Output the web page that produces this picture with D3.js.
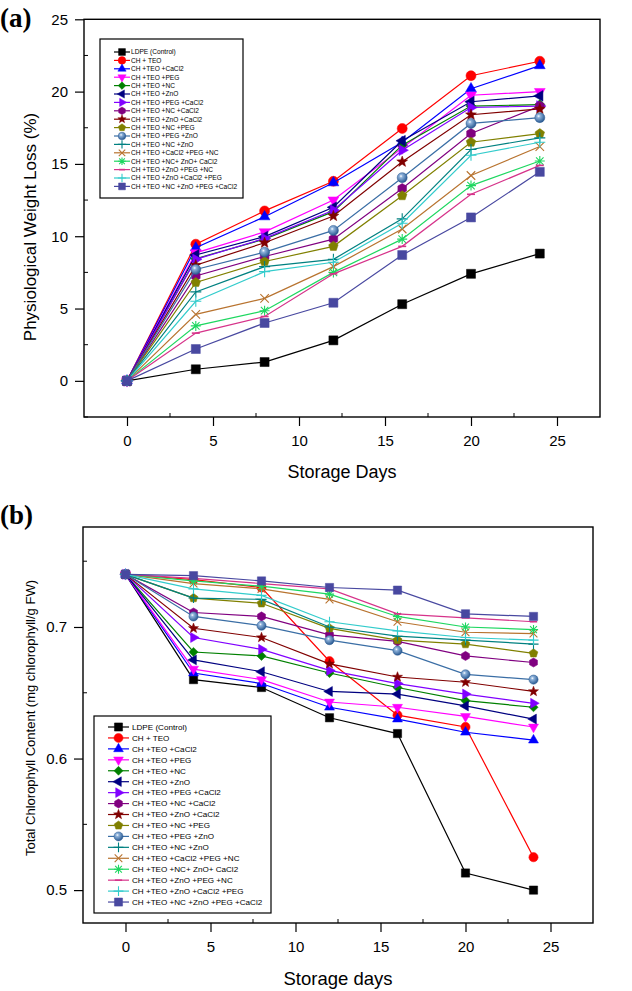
<!DOCTYPE html>
<html>
<head>
<meta charset="utf-8">
<script src="https://cdn.jsdelivr.net/npm/d3@7"></script>
<style>
  body { margin: 0; background: #fff; }
  text { font-family: Arial, "Liberation Sans", sans-serif; }
</style>
</head>
<body>
<svg id="chart" width="632" height="991"></svg>
<script>
// storage days (x values, both panels)
const days = [0, 4, 8, 12, 16, 20, 24];
const xTicks = [0, 5, 10, 15, 20, 25];
const lossTicks = [0, 5, 10, 15, 20, 25];
const chloroTicks = [0.5, 0.6, 0.7];

const treatments = [
  "LDPE (Control)", "CH + TEO", "CH +TEO +CaCl2", "CH +TEO +PEG", "CH +TEO +NC",
  "CH +TEO +ZnO", "CH +TEO +PEG +CaCl2", "CH +TEO +NC +CaCl2", "CH +TEO +ZnO +CaCl2",
  "CH +TEO +NC +PEG", "CH +TEO +PEG +ZnO", "CH +TEO +NC +ZnO", "CH +TEO +CaCl2 +PEG +NC",
  "CH +TEO +NC+ ZnO+ CaCl2", "CH +TEO +ZnO +PEG +NC", "CH +TEO +ZnO +CaCl2 +PEG",
  "CH +TEO +NC +ZnO +PEG +CaCl2"
];

// (a) physiological weight loss (%), one row per treatment
const weightLoss = [
  [0, 0.8, 1.3, 2.8, 5.3, 7.4, 8.8],
  [0, 9.45, 11.75, 13.8, 17.45, 21.1, 22.1],
  [0, 9.2, 11.35, 13.7, 16.5, 20.2, 21.8],
  [0, 8.85, 10.3, 12.5, 16.1, 19.75, 20.0],
  [0, 8.45, 9.8, 11.7, 16.3, 19.0, 19.1],
  [0, 8.7, 9.97, 12.0, 16.6, 19.3, 19.7],
  [0, 8.4, 9.85, 11.8, 15.95, 18.9, 19.0],
  [0, 7.25, 8.6, 9.8, 13.3, 17.1, 19.0],
  [0, 8.0, 9.55, 11.4, 15.15, 18.4, 18.8],
  [0, 6.8, 8.25, 9.3, 12.8, 16.5, 17.1],
  [0, 7.7, 8.9, 10.4, 14.05, 17.8, 18.2],
  [0, 6.15, 7.9, 8.4, 11.2, 16.0, 16.8],
  [0, 4.6, 5.7, 7.9, 10.5, 14.2, 16.2],
  [0, 3.8, 4.85, 7.5, 9.8, 13.5, 15.2],
  [0, 3.3, 4.45, 7.4, 9.3, 12.9, 14.9],
  [0, 5.5, 7.55, 8.2, 10.9, 15.6, 16.5],
  [0, 2.2, 4.0, 5.4, 8.7, 11.3, 14.45]
];

// (b) total chlorophyll content (mg chlorophyll / g FW)
const chlorophyll = [
  [0.74, 0.660, 0.654, 0.631, 0.619, 0.513, 0.500],
  [0.74, 0.736, 0.730, 0.674, 0.633, 0.624, 0.525],
  [0.74, 0.665, 0.657, 0.639, 0.630, 0.620, 0.614],
  [0.74, 0.668, 0.660, 0.643, 0.639, 0.632, 0.624],
  [0.74, 0.681, 0.678, 0.665, 0.654, 0.644, 0.639],
  [0.74, 0.675, 0.666, 0.651, 0.649, 0.640, 0.630],
  [0.74, 0.692, 0.683, 0.667, 0.657, 0.649, 0.642],
  [0.74, 0.711, 0.708, 0.694, 0.689, 0.678, 0.673],
  [0.74, 0.699, 0.692, 0.672, 0.662, 0.658, 0.651],
  [0.74, 0.722, 0.718, 0.699, 0.690, 0.687, 0.680],
  [0.74, 0.708, 0.701, 0.690, 0.682, 0.664, 0.660],
  [0.74, 0.722, 0.721, 0.700, 0.693, 0.690, 0.687],
  [0.74, 0.733, 0.729, 0.721, 0.704, 0.696, 0.695],
  [0.74, 0.735, 0.731, 0.725, 0.708, 0.700, 0.698],
  [0.74, 0.737, 0.733, 0.729, 0.710, 0.707, 0.704],
  [0.74, 0.729, 0.724, 0.704, 0.697, 0.692, 0.690],
  [0.74, 0.739, 0.735, 0.730, 0.728, 0.710, 0.708]
];

// line colour and marker per treatment
const colors = ["#000000", "#ff0000", "#0000ff", "#ff00ff", "#008000", "#000080", "#8000ff",
  "#800080", "#800000", "#808000", "#3a6ea5", "#008080", "#b8732f", "#1ed760", "#d6338a",
  "#33cccc", "#4848a0"];
const markers = ["square", "circle", "up", "down", "diamond", "left", "right", "hexagon",
  "star", "pentagon", "ball", "plus", "times", "asterisk", "bar", "plus", "square"];

// custom marker shapes for d3.symbol (size = r*r)
const poly = (n, rot) => ({
  draw(ctx, size) {
    const r = Math.sqrt(size);
    for (let i = 0; i < n; i++) {
      const a = rot + i * 2 * Math.PI / n;
      i ? ctx.lineTo(r * Math.cos(a), r * Math.sin(a)) : ctx.moveTo(r * Math.cos(a), r * Math.sin(a));
    }
    ctx.closePath();
  }
});
const shapes = {
  square: { draw(ctx, size) { const s = Math.sqrt(size) * 0.9; ctx.rect(-s, -s, 2 * s, 2 * s); } },
  circle: { draw(ctx, size) { const r = Math.sqrt(size); ctx.moveTo(r, 0); ctx.arc(0, 0, r, 0, 2 * Math.PI); } },
  ball: { draw(ctx, size) { const r = Math.sqrt(size); ctx.moveTo(r, 0); ctx.arc(0, 0, r, 0, 2 * Math.PI); } },
  up: poly(3, -Math.PI / 2),
  down: poly(3, Math.PI / 2),
  left: poly(3, Math.PI),
  right: poly(3, 0),
  diamond: poly(4, -Math.PI / 2),
  hexagon: poly(6, -Math.PI / 2),
  pentagon: poly(5, -Math.PI / 2),
  star: {
    draw(ctx, size) {
      const r = Math.sqrt(size) * 1.15;
      for (let i = 0; i < 10; i++) {
        const a = -Math.PI / 2 + i * Math.PI / 5, rr = i % 2 ? r * 0.42 : r;
        i ? ctx.lineTo(rr * Math.cos(a), rr * Math.sin(a)) : ctx.moveTo(rr * Math.cos(a), rr * Math.sin(a));
      }
      ctx.closePath();
    }
  },
  plus: { draw(ctx, size) { const r = Math.sqrt(size) * 1.1; ctx.moveTo(-r, 0); ctx.lineTo(r, 0); ctx.moveTo(0, -r); ctx.lineTo(0, r); } },
  times: { draw(ctx, size) { const r = Math.sqrt(size) * 0.85; ctx.moveTo(-r, -r); ctx.lineTo(r, r); ctx.moveTo(-r, r); ctx.lineTo(r, -r); } },
  asterisk: {
    draw(ctx, size) {
      const r = Math.sqrt(size), d = r * 0.75;
      ctx.moveTo(-r, 0); ctx.lineTo(r, 0); ctx.moveTo(0, -r); ctx.lineTo(0, r);
      ctx.moveTo(-d, -d); ctx.lineTo(d, d); ctx.moveTo(-d, d); ctx.lineTo(d, -d);
    }
  },
  bar: { draw(ctx, size) { const r = Math.sqrt(size) * 0.8; ctx.moveTo(-r, 0); ctx.lineTo(r, 0); } }
};
const strokeOnly = new Set(["plus", "times", "asterisk", "bar"]);
const triSet = new Set(["up", "down", "left", "right"]);

const svg = d3.select("#chart");

// shaded sphere for the PEG + ZnO marker
const grad = svg.append("defs").append("radialGradient")
  .attr("id", "ball").attr("cx", "38%").attr("cy", "35%").attr("r", "65%");
grad.append("stop").attr("offset", "0%").attr("stop-color", "#ffffff");
grad.append("stop").attr("offset", "25%").attr("stop-color", "#8fb3db");
grad.append("stop").attr("offset", "100%").attr("stop-color", "#2a5a92");

function drawMarker(sel, i, r) {
  const m = markers[i];
  const rr = triSet.has(m) ? r * 1.25 : r;
  const p = sel.append("path")
    .attr("d", d3.symbol().type(shapes[m]).size(rr * rr)());
  if (strokeOnly.has(m)) {
    p.attr("fill", "none").attr("stroke", colors[i]).attr("stroke-width", m === "bar" ? 1.6 : 1.1);
  } else if (m === "ball") {
    p.attr("fill", "url(#ball)").attr("stroke", "#2a5a92").attr("stroke-width", 0.5);
  } else {
    p.attr("fill", colors[i]).attr("stroke", colors[i]).attr("stroke-width", 0.5);
  }
  return p;
}

function panel(cfg) {
  const x = d3.scaleLinear().domain([-2.5, 27.5]).range([cfg.left, cfg.right]);
  const y = d3.scaleLinear().domain(cfg.yDomain).range([cfg.bottom, cfg.top]);
  const g = svg.append("g");

  // x axis (ticks outward, labels below)
  g.append("g")
    .attr("transform", `translate(0,${cfg.bottom})`)
    .call(d3.axisBottom(x).tickValues(xTicks).tickSize(9).tickPadding(9).tickSizeOuter(0))
    .call(a => a.select(".domain").remove())
    .call(a => a.selectAll("line").attr("stroke", "#000").attr("stroke-width", 1.2))
    .call(a => a.selectAll("text").attr("font-size", 15).attr("fill", "#000")
      .attr("font-family", "Arial, 'Liberation Sans', sans-serif"));

  // y axis
  g.append("g")
    .attr("transform", `translate(${cfg.left},0)`)
    .call(d3.axisLeft(y).tickValues(cfg.yTicks).tickFormat(cfg.fmt).tickSize(9).tickPadding(7).tickSizeOuter(0))
    .call(a => a.select(".domain").remove())
    .call(a => a.selectAll("line").attr("stroke", "#000").attr("stroke-width", 1.2))
    .call(a => a.selectAll("text").attr("font-size", 15).attr("fill", "#000")
      .attr("font-family", "Arial, 'Liberation Sans', sans-serif"));

  // minor ticks pointing inward
  g.append("g").selectAll("line")
    .data(d3.range(2.5, 27.5, 5))
    .join("line")
    .attr("x1", d => x(d)).attr("x2", d => x(d))
    .attr("y1", cfg.bottom).attr("y2", cfg.bottom - 4)
    .attr("stroke", "#000").attr("stroke-width", 1);
  g.append("g").selectAll("line")
    .data(cfg.yMinor)
    .join("line")
    .attr("x1", cfg.left).attr("x2", cfg.left + 4)
    .attr("y1", d => y(d)).attr("y2", d => y(d))
    .attr("stroke", "#000").attr("stroke-width", 1);

  // frame
  g.append("rect")
    .attr("x", cfg.left).attr("y", cfg.top)
    .attr("width", cfg.right - cfg.left).attr("height", cfg.bottom - cfg.top)
    .attr("fill", "none").attr("stroke", "#000").attr("stroke-width", 1.4);

  // series: line then markers, in legend order
  const line = d3.line().x((d, i) => x(days[i])).y(d => y(d));
  cfg.data.forEach((vals, i) => {
    const sg = g.append("g");
    sg.append("path")
      .attr("d", line(vals))
      .attr("fill", "none").attr("stroke", colors[i]).attr("stroke-width", 1.2);
    vals.forEach((v, j) => {
      drawMarker(sg, i, cfg.markerR).attr("transform", `translate(${x(days[j])},${y(v)})`);
    });
  });

  // legend
  const L = cfg.legend;
  const lg = g.append("g");
  lg.append("rect")
    .attr("x", L.x).attr("y", L.y).attr("width", L.w).attr("height", L.h)
    .attr("fill", "#fff").attr("stroke", "#000").attr("stroke-width", 1.2);
  treatments.forEach((name, i) => {
    const ry = L.row0 + i * L.dy;
    const row = lg.append("g");
    row.append("line")
      .attr("x1", L.lx0).attr("x2", L.lx1).attr("y1", ry).attr("y2", ry)
      .attr("stroke", colors[i]).attr("stroke-width", 1.2);
    drawMarker(row, i, L.r).attr("transform", `translate(${(L.lx0 + L.lx1) / 2},${ry})`);
    row.append("text")
      .attr("x", L.tx).attr("y", ry).attr("dy", "0.35em")
      .attr("font-size", L.fs).attr("fill", "#000")
      .text(name);
  });

  // axis titles
  g.append("text")
    .attr("x", (x(-2.5) + x(27.5)) / 2).attr("y", cfg.xTitleY)
    .attr("text-anchor", "middle").attr("font-size", cfg.xTitleFs)
    .text(cfg.xTitle);
  g.append("text")
    .attr("transform", `translate(${cfg.yTitleX},${cfg.yTitleCy}) rotate(-90)`)
    .attr("text-anchor", "middle").attr("font-size", cfg.yTitleFs)
    .text(cfg.yTitle);

  // panel letter
  g.append("text")
    .attr("x", 0).attr("y", cfg.letterY)
    .attr("font-weight", "bold").attr("font-size", 27)
    .style("font-family", "'Liberation Serif', 'Times New Roman', serif")
    .text(cfg.letter);
}

panel({
  data: weightLoss, left: 84, right: 600, top: 19.3, bottom: 417,
  yDomain: [-2.5, 25], yTicks: lossTicks, yMinor: [-2.5, 2.5, 7.5, 12.5, 17.5, 22.5], fmt: d3.format("d"),
  markerR: 5,
  legend: { x: 100, y: 39, w: 143, h: 159, row0: 52, dy: 8.4, lx0: 114, lx1: 130, tx: 131, fs: 6.6, r: 3.8 },
  xTitle: "Storage Days", xTitleY: 478, xTitleFs: 18,
  yTitle: "Physiological Weight Loss (%)", yTitleX: 36, yTitleCy: 227, yTitleFs: 17,
  letter: "(a)", letterY: 27
});

panel({
  data: chlorophyll, left: 83, right: 593, top: 527, bottom: 923,
  yDomain: [0.475, 0.776], yTicks: chloroTicks, yMinor: [0.55, 0.65, 0.75], fmt: d3.format(".1f"),
  markerR: 4.6,
  legend: { x: 94, y: 716, w: 177, h: 197, row0: 727, dy: 10.94, lx0: 108, lx1: 129, tx: 132, fs: 8.1, r: 4.5 },
  xTitle: "Storage days", xTitleY: 985, xTitleFs: 18.5,
  yTitle: "Total Chlorophyll Content (mg chlorophyll/g FW)", yTitleX: 35, yTitleCy: 718, yTitleFs: 13,
  letter: "(b)", letterY: 524
});
</script>
</body>
</html>
